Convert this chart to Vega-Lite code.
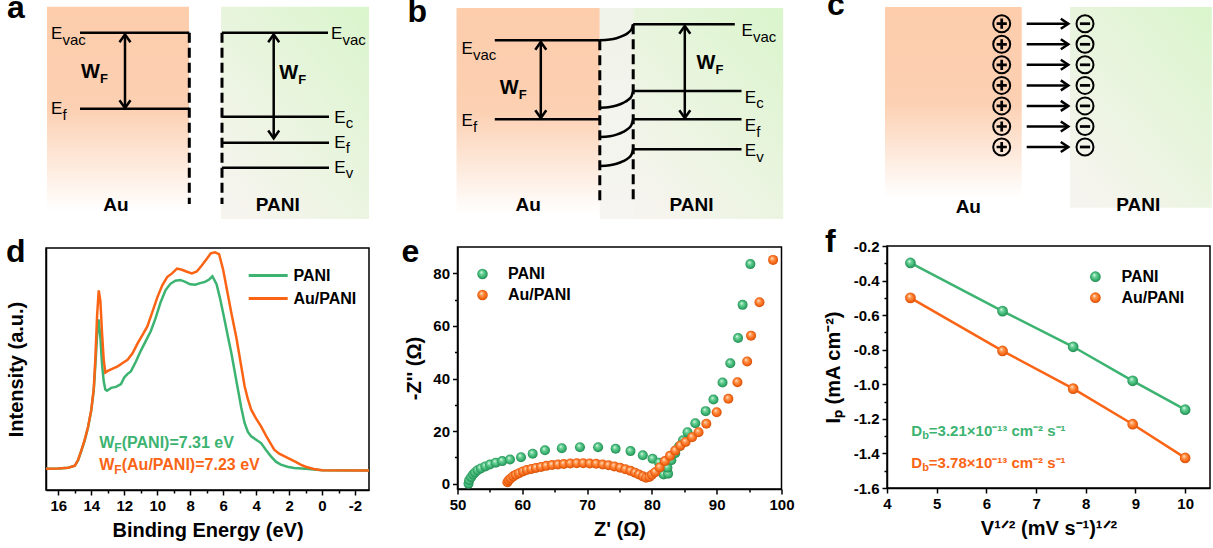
{
"$schema":"https://vega.github.io/schema/vega-lite/v6.json",
"background":"white",
"padding":{"left":5,"top":-11,"right":0,"bottom":0},
"autosize":{"type":"pad"},
"spacing":27,
"resolve":{"scale":{"color":"independent","stroke":"independent"},"legend":{"color":"independent"}},
"datasets":{
"schematic":[
{"panel":"a","kind":"au","x":1,"x2":143,"y":0.7,"y2":205},
{"panel":"a","kind":"pani","x":175,"x2":323,"y":0.7,"y2":213},
{"panel":"a","kind":"level","x":34,"x2":143.3,"y":26.7,"y2":26.7},
{"panel":"a","kind":"level","x":34,"x2":143.3,"y":102.7,"y2":102.7},
{"panel":"a","kind":"level","x":176,"x2":282,"y":26.7,"y2":26.7},
{"panel":"a","kind":"level","x":176,"x2":283,"y":110.7,"y2":110.7},
{"panel":"a","kind":"level","x":176,"x2":283,"y":136.7,"y2":136.7},
{"panel":"a","kind":"level","x":176,"x2":283,"y":161.7,"y2":161.7},
{"panel":"a","kind":"dash","x":143.3,"x2":143.3,"y":26.7,"y2":198},
{"panel":"a","kind":"dash","x":176,"x2":176,"y":26.7,"y2":198},
{"panel":"a","kind":"arrow","x":79,"x2":79,"y":28.5,"y2":102},
{"panel":"a","kind":"arrow","x":227.7,"x2":227.7,"y":28.5,"y2":132.3},
{"panel":"a","kind":"E","x":5,"y":33.3,"sub":"vac"},
{"panel":"a","kind":"E","x":5,"y":108.3,"sub":"f"},
{"panel":"a","kind":"E","x":285,"y":33.3,"sub":"vac"},
{"panel":"a","kind":"E","x":288.3,"y":116.7,"sub":"c"},
{"panel":"a","kind":"E","x":288.3,"y":141.7,"sub":"f"},
{"panel":"a","kind":"E","x":288.3,"y":166.7,"sub":"v"},
{"panel":"a","kind":"W","x":35,"y":72.3},
{"panel":"a","kind":"W","x":233.3,"y":73.3},
{"panel":"a","kind":"label","x":70,"y":205,"name":"Au"},
{"panel":"a","kind":"label","x":231.7,"y":205,"name":"PANI"},
{"panel":"b","kind":"au","x":-1,"x2":142.3,"y":2,"y2":208},
{"panel":"b","kind":"mid","x":142.3,"x2":175.7,"y":2,"y2":213},
{"panel":"b","kind":"pani","x":175.7,"x2":325.7,"y":2,"y2":213},
{"panel":"b","kind":"level","x":37.3,"x2":142.3,"y":34.3,"y2":34.3},
{"panel":"b","kind":"level","x":37.3,"x2":142.3,"y":113.3,"y2":113.3},
{"panel":"b","kind":"level","x":175.7,"x2":277.3,"y":18.3,"y2":18.3},
{"panel":"b","kind":"level","x":175.7,"x2":284,"y":85,"y2":85},
{"panel":"b","kind":"level","x":175.7,"x2":284,"y":113.3,"y2":113.3},
{"panel":"b","kind":"level","x":175.7,"x2":284,"y":143.3,"y2":143.3},
{"panel":"b","kind":"dash","x":142.3,"x2":142.3,"y":34.3,"y2":196.7},
{"panel":"b","kind":"dash","x":175.7,"x2":175.7,"y":18.3,"y2":195},
{"panel":"b","kind":"arrow","x":83.3,"x2":83.3,"y":36,"y2":112},
{"panel":"b","kind":"arrow","x":227.3,"x2":227.3,"y":20,"y2":112},
{"panel":"b","kind":"E","x":4,"y":48.3,"sub":"vac"},
{"panel":"b","kind":"E","x":4,"y":120,"sub":"f"},
{"panel":"b","kind":"E","x":284,"y":30,"sub":"vac"},
{"panel":"b","kind":"E","x":287.3,"y":96.7,"sub":"c"},
{"panel":"b","kind":"E","x":287.3,"y":125,"sub":"f"},
{"panel":"b","kind":"E","x":287.3,"y":150,"sub":"v"},
{"panel":"b","kind":"W","x":42.3,"y":88.3},
{"panel":"b","kind":"W","x":239,"y":63.3},
{"panel":"b","kind":"label","x":70.7,"y":205,"name":"Au"},
{"panel":"b","kind":"label","x":234,"y":205,"name":"PANI"},
{"panel":"b","kind":"bend","band":"vac","x":142.3,"y":34.3},
{"panel":"b","kind":"bend","band":"vac","x":152.3,"y":33.6},
{"panel":"b","kind":"bend","band":"vac","x":159,"y":32.2},
{"panel":"b","kind":"bend","band":"vac","x":165.7,"y":29.7},
{"panel":"b","kind":"bend","band":"vac","x":170.7,"y":26.7},
{"panel":"b","kind":"bend","band":"vac","x":174,"y":23.3},
{"panel":"b","kind":"bend","band":"vac","x":175.7,"y":18.3},
{"panel":"b","kind":"bend","band":"c","x":142.3,"y":101.7},
{"panel":"b","kind":"bend","band":"c","x":152.3,"y":100.9},
{"panel":"b","kind":"bend","band":"c","x":159,"y":99.5},
{"panel":"b","kind":"bend","band":"c","x":165.7,"y":96.9},
{"panel":"b","kind":"bend","band":"c","x":170.7,"y":93.8},
{"panel":"b","kind":"bend","band":"c","x":174,"y":90.2},
{"panel":"b","kind":"bend","band":"c","x":175.7,"y":85},
{"panel":"b","kind":"bend","band":"f","x":142.3,"y":131},
{"panel":"b","kind":"bend","band":"f","x":152.3,"y":130.2},
{"panel":"b","kind":"bend","band":"f","x":159,"y":128.6},
{"panel":"b","kind":"bend","band":"f","x":165.7,"y":125.9},
{"panel":"b","kind":"bend","band":"f","x":170.7,"y":122.6},
{"panel":"b","kind":"bend","band":"f","x":174,"y":118.8},
{"panel":"b","kind":"bend","band":"f","x":175.7,"y":113.3},
{"panel":"b","kind":"bend","band":"v","x":142.3,"y":160},
{"panel":"b","kind":"bend","band":"v","x":152.3,"y":159.2},
{"panel":"b","kind":"bend","band":"v","x":159,"y":157.8},
{"panel":"b","kind":"bend","band":"v","x":165.7,"y":155.2},
{"panel":"b","kind":"bend","band":"v","x":170.7,"y":152.1},
{"panel":"b","kind":"bend","band":"v","x":174,"y":148.5},
{"panel":"b","kind":"bend","band":"v","x":175.7,"y":143.3},
{"panel":"c","kind":"au","x":-2,"x2":134.7,"y":1,"y2":191.7},
{"panel":"c","kind":"pani","x":183,"x2":324.7,"y":1,"y2":201.7},
{"panel":"c","kind":"plus","x":114.7,"y":17.7},
{"panel":"c","kind":"plus","x":114.7,"y":38.3},
{"panel":"c","kind":"plus","x":114.7,"y":58.8},
{"panel":"c","kind":"plus","x":114.7,"y":79.4},
{"panel":"c","kind":"plus","x":114.7,"y":99.9},
{"panel":"c","kind":"plus","x":114.7,"y":120.5},
{"panel":"c","kind":"plus","x":114.7,"y":141},
{"panel":"c","kind":"minus","x":198,"y":17.7},
{"panel":"c","kind":"minus","x":198,"y":38.3},
{"panel":"c","kind":"minus","x":198,"y":58.8},
{"panel":"c","kind":"minus","x":198,"y":79.4},
{"panel":"c","kind":"minus","x":198,"y":99.9},
{"panel":"c","kind":"minus","x":198,"y":120.5},
{"panel":"c","kind":"minus","x":198,"y":141},
{"panel":"c","kind":"harrow","x":139.7,"x2":181.3,"y":17.7,"y2":17.7},
{"panel":"c","kind":"harrow","x":139.7,"x2":181.3,"y":38.3,"y2":38.3},
{"panel":"c","kind":"harrow","x":139.7,"x2":181.3,"y":58.8,"y2":58.8},
{"panel":"c","kind":"harrow","x":139.7,"x2":181.3,"y":79.4,"y2":79.4},
{"panel":"c","kind":"harrow","x":139.7,"x2":181.3,"y":99.9,"y2":99.9},
{"panel":"c","kind":"harrow","x":139.7,"x2":181.3,"y":120.5,"y2":120.5},
{"panel":"c","kind":"harrow","x":139.7,"x2":181.3,"y":141,"y2":141},
{"panel":"c","kind":"label","x":81.3,"y":206.7,"name":"Au"},
{"panel":"c","kind":"label","x":251.3,"y":205,"name":"PANI"}
],
"ups":[
{"spectrum":"PANI","energy":16.75,"intensity":8.8},{"spectrum":"PANI","energy":16.0,"intensity":8.9},{"spectrum":"PANI","energy":15.4,"intensity":9.2},{"spectrum":"PANI","energy":15.0,"intensity":10.0},{"spectrum":"PANI","energy":14.8,"intensity":12.3},{"spectrum":"PANI","energy":14.6,"intensity":16.3},{"spectrum":"PANI","energy":14.4,"intensity":20.5},{"spectrum":"PANI","energy":14.2,"intensity":25.8},{"spectrum":"PANI","energy":14.0,"intensity":33.0},{"spectrum":"PANI","energy":13.85,"intensity":41.5},{"spectrum":"PANI","energy":13.75,"intensity":52.0},{"spectrum":"PANI","energy":13.65,"intensity":64.0},{"spectrum":"PANI","energy":13.56,"intensity":70.5},{"spectrum":"PANI","energy":13.45,"intensity":63.0},{"spectrum":"PANI","energy":13.35,"intensity":52.0},{"spectrum":"PANI","energy":13.25,"intensity":45.0},{"spectrum":"PANI","energy":13.15,"intensity":41.5},{"spectrum":"PANI","energy":13.05,"intensity":41.0},{"spectrum":"PANI","energy":12.8,"intensity":42.2},{"spectrum":"PANI","energy":12.5,"intensity":42.6},{"spectrum":"PANI","energy":12.2,"intensity":43.8},{"spectrum":"PANI","energy":12.0,"intensity":46.5},{"spectrum":"PANI","energy":11.8,"intensity":48.0},{"spectrum":"PANI","energy":11.6,"intensity":49.0},{"spectrum":"PANI","energy":11.3,"intensity":53.0},{"spectrum":"PANI","energy":11.0,"intensity":57.5},{"spectrum":"PANI","energy":10.7,"intensity":61.5},{"spectrum":"PANI","energy":10.4,"intensity":65.5},{"spectrum":"PANI","energy":10.1,"intensity":71.0},{"spectrum":"PANI","energy":9.8,"intensity":77.5},{"spectrum":"PANI","energy":9.5,"intensity":82.5},{"spectrum":"PANI","energy":9.2,"intensity":85.2},{"spectrum":"PANI","energy":8.9,"intensity":86.5},{"spectrum":"PANI","energy":8.6,"intensity":86.8},{"spectrum":"PANI","energy":8.3,"intensity":86.0},{"spectrum":"PANI","energy":8.0,"intensity":85.0},{"spectrum":"PANI","energy":7.7,"intensity":84.8},{"spectrum":"PANI","energy":7.4,"intensity":85.5},{"spectrum":"PANI","energy":7.1,"intensity":86.0},{"spectrum":"PANI","energy":6.85,"intensity":87.0},{"spectrum":"PANI","energy":6.65,"intensity":88.3},{"spectrum":"PANI","energy":6.4,"intensity":85.0},{"spectrum":"PANI","energy":6.2,"intensity":79.5},{"spectrum":"PANI","energy":5.95,"intensity":71.5},{"spectrum":"PANI","energy":5.7,"intensity":63.0},{"spectrum":"PANI","energy":5.5,"intensity":56.5},{"spectrum":"PANI","energy":5.3,"intensity":49.0},{"spectrum":"PANI","energy":5.1,"intensity":41.4},{"spectrum":"PANI","energy":4.9,"intensity":34.0},{"spectrum":"PANI","energy":4.7,"intensity":27.7},{"spectrum":"PANI","energy":4.5,"intensity":24.0},{"spectrum":"PANI","energy":4.3,"intensity":22.2},{"spectrum":"PANI","energy":4.0,"intensity":20.8},{"spectrum":"PANI","energy":3.7,"intensity":19.4},{"spectrum":"PANI","energy":3.4,"intensity":16.5},{"spectrum":"PANI","energy":3.1,"intensity":13.9},{"spectrum":"PANI","energy":2.8,"intensity":11.7},{"spectrum":"PANI","energy":2.5,"intensity":10.5},{"spectrum":"PANI","energy":2.1,"intensity":9.6},{"spectrum":"PANI","energy":1.7,"intensity":9.1},{"spectrum":"PANI","energy":1.0,"intensity":8.8},{"spectrum":"PANI","energy":0.5,"intensity":8.5},{"spectrum":"PANI","energy":0.0,"intensity":8.2},{"spectrum":"PANI","energy":-2.85,"intensity":8.1},
{"spectrum":"Au/PANI","energy":16.75,"intensity":8.8},{"spectrum":"Au/PANI","energy":16.0,"intensity":8.9},{"spectrum":"Au/PANI","energy":15.4,"intensity":9.2},{"spectrum":"Au/PANI","energy":15.0,"intensity":10.0},{"spectrum":"Au/PANI","energy":14.8,"intensity":12.5},{"spectrum":"Au/PANI","energy":14.6,"intensity":16.5},{"spectrum":"Au/PANI","energy":14.4,"intensity":20.8},{"spectrum":"Au/PANI","energy":14.2,"intensity":26.0},{"spectrum":"Au/PANI","energy":14.0,"intensity":33.2},{"spectrum":"Au/PANI","energy":13.85,"intensity":42.0},{"spectrum":"Au/PANI","energy":13.75,"intensity":55.0},{"spectrum":"Au/PANI","energy":13.65,"intensity":72.0},{"spectrum":"Au/PANI","energy":13.55,"intensity":82.5},{"spectrum":"Au/PANI","energy":13.45,"intensity":78.0},{"spectrum":"Au/PANI","energy":13.35,"intensity":65.0},{"spectrum":"Au/PANI","energy":13.25,"intensity":54.0},{"spectrum":"Au/PANI","energy":13.15,"intensity":48.5},{"spectrum":"Au/PANI","energy":13.0,"intensity":49.2},{"spectrum":"Au/PANI","energy":12.7,"intensity":50.2},{"spectrum":"Au/PANI","energy":12.4,"intensity":51.1},{"spectrum":"Au/PANI","energy":12.1,"intensity":52.5},{"spectrum":"Au/PANI","energy":11.8,"intensity":53.8},{"spectrum":"Au/PANI","energy":11.5,"intensity":56.5},{"spectrum":"Au/PANI","energy":11.2,"intensity":60.5},{"spectrum":"Au/PANI","energy":10.9,"intensity":64.0},{"spectrum":"Au/PANI","energy":10.6,"intensity":67.6},{"spectrum":"Au/PANI","energy":10.3,"intensity":73.5},{"spectrum":"Au/PANI","energy":10.0,"intensity":79.5},{"spectrum":"Au/PANI","energy":9.7,"intensity":84.5},{"spectrum":"Au/PANI","energy":9.4,"intensity":88.0},{"spectrum":"Au/PANI","energy":9.1,"intensity":89.5},{"spectrum":"Au/PANI","energy":8.8,"intensity":91.5},{"spectrum":"Au/PANI","energy":8.5,"intensity":91.0},{"spectrum":"Au/PANI","energy":8.2,"intensity":90.2},{"spectrum":"Au/PANI","energy":7.9,"intensity":89.5},{"spectrum":"Au/PANI","energy":7.6,"intensity":90.3},{"spectrum":"Au/PANI","energy":7.3,"intensity":92.8},{"spectrum":"Au/PANI","energy":7.0,"intensity":95.5},{"spectrum":"Au/PANI","energy":6.75,"intensity":97.8},{"spectrum":"Au/PANI","energy":6.5,"intensity":98.2},{"spectrum":"Au/PANI","energy":6.25,"intensity":97.5},{"spectrum":"Au/PANI","energy":6.0,"intensity":91.0},{"spectrum":"Au/PANI","energy":5.75,"intensity":82.0},{"spectrum":"Au/PANI","energy":5.5,"intensity":73.0},{"spectrum":"Au/PANI","energy":5.2,"intensity":63.0},{"spectrum":"Au/PANI","energy":4.9,"intensity":51.0},{"spectrum":"Au/PANI","energy":4.7,"intensity":43.0},{"spectrum":"Au/PANI","energy":4.5,"intensity":37.5},{"spectrum":"Au/PANI","energy":4.3,"intensity":33.2},{"spectrum":"Au/PANI","energy":4.0,"intensity":29.5},{"spectrum":"Au/PANI","energy":3.7,"intensity":26.3},{"spectrum":"Au/PANI","energy":3.4,"intensity":22.5},{"spectrum":"Au/PANI","energy":3.1,"intensity":19.0},{"spectrum":"Au/PANI","energy":2.9,"intensity":16.7},{"spectrum":"Au/PANI","energy":2.6,"intensity":15.0},{"spectrum":"Au/PANI","energy":2.3,"intensity":14.0},{"spectrum":"Au/PANI","energy":2.0,"intensity":13.0},{"spectrum":"Au/PANI","energy":1.6,"intensity":11.6},{"spectrum":"Au/PANI","energy":1.3,"intensity":10.5},{"spectrum":"Au/PANI","energy":1.0,"intensity":9.6},{"spectrum":"Au/PANI","energy":0.5,"intensity":8.7},{"spectrum":"Au/PANI","energy":0.0,"intensity":8.2},{"spectrum":"Au/PANI","energy":-2.85,"intensity":8.1}
],
"ups_notes":[
{"spectrum":"PANI","energy":13.52,"intensity":19.4,"main":"W","sub":"F","rest":"(PANI)=7.31 eV"},
{"spectrum":"Au/PANI","energy":13.52,"intensity":10.3,"main":"W","sub":"F","rest":"(Au/PANI)=7.23 eV"}
],
"eis":[
{"sample":"PANI","zr":51.7,"zi":0.0},{"sample":"PANI","zr":51.8,"zi":1.3},{"sample":"PANI","zr":52.1,"zi":2.5},{"sample":"PANI","zr":52.4,"zi":3.5},{"sample":"PANI","zr":52.7,"zi":4.3},{"sample":"PANI","zr":53.1,"zi":5.1},{"sample":"PANI","zr":53.6,"zi":5.8},{"sample":"PANI","zr":54.3,"zi":6.6},{"sample":"PANI","zr":55.0,"zi":7.3},{"sample":"PANI","zr":55.9,"zi":8.0},{"sample":"PANI","zr":56.9,"zi":8.6},{"sample":"PANI","zr":58.1,"zi":9.2},{"sample":"PANI","zr":59.8,"zi":10.1},{"sample":"PANI","zr":61.6,"zi":11.4},{"sample":"PANI","zr":63.5,"zi":12.7},{"sample":"PANI","zr":66.1,"zi":13.5},{"sample":"PANI","zr":68.9,"zi":13.9},{"sample":"PANI","zr":71.7,"zi":13.9},{"sample":"PANI","zr":74.4,"zi":13.3},{"sample":"PANI","zr":76.7,"zi":12.4},{"sample":"PANI","zr":78.6,"zi":10.8},{"sample":"PANI","zr":80.1,"zi":9.5},{"sample":"PANI","zr":81.1,"zi":8.0},{"sample":"PANI","zr":81.6,"zi":5.3},{"sample":"PANI","zr":81.8,"zi":3.5},{"sample":"PANI","zr":82.5,"zi":3.8},{"sample":"PANI","zr":82.4,"zi":6.1},{"sample":"PANI","zr":83.0,"zi":8.9},{"sample":"PANI","zr":83.6,"zi":11.6},{"sample":"PANI","zr":84.2,"zi":14.2},{"sample":"PANI","zr":84.8,"zi":16.5},{"sample":"PANI","zr":85.5,"zi":19.6},{"sample":"PANI","zr":86.7,"zi":23.0},{"sample":"PANI","zr":88.3,"zi":27.6},{"sample":"PANI","zr":89.5,"zi":32.0},{"sample":"PANI","zr":90.9,"zi":38.5},{"sample":"PANI","zr":92.1,"zi":45.8},{"sample":"PANI","zr":93.3,"zi":55.4},{"sample":"PANI","zr":94.0,"zi":68.0},{"sample":"PANI","zr":95.2,"zi":83.5},
{"sample":"Au/PANI","zr":57.7,"zi":0.6},{"sample":"Au/PANI","zr":57.9,"zi":1.3},{"sample":"Au/PANI","zr":58.2,"zi":2.0},{"sample":"Au/PANI","zr":58.6,"zi":2.8},{"sample":"Au/PANI","zr":59.0,"zi":3.4},{"sample":"Au/PANI","zr":59.5,"zi":4.0},{"sample":"Au/PANI","zr":60.1,"zi":4.7},{"sample":"Au/PANI","zr":60.7,"zi":5.2},{"sample":"Au/PANI","zr":61.4,"zi":5.6},{"sample":"Au/PANI","zr":62.1,"zi":6.0},{"sample":"Au/PANI","zr":62.9,"zi":6.4},{"sample":"Au/PANI","zr":63.7,"zi":6.8},{"sample":"Au/PANI","zr":64.6,"zi":7.1},{"sample":"Au/PANI","zr":65.5,"zi":7.3},{"sample":"Au/PANI","zr":66.4,"zi":7.5},{"sample":"Au/PANI","zr":67.4,"zi":7.7},{"sample":"Au/PANI","zr":68.4,"zi":7.8},{"sample":"Au/PANI","zr":69.4,"zi":7.8},{"sample":"Au/PANI","zr":70.4,"zi":7.7},{"sample":"Au/PANI","zr":71.4,"zi":7.6},{"sample":"Au/PANI","zr":72.4,"zi":7.3},{"sample":"Au/PANI","zr":73.3,"zi":7.0},{"sample":"Au/PANI","zr":74.2,"zi":6.6},{"sample":"Au/PANI","zr":75.1,"zi":6.1},{"sample":"Au/PANI","zr":75.9,"zi":5.5},{"sample":"Au/PANI","zr":76.7,"zi":4.9},{"sample":"Au/PANI","zr":77.4,"zi":4.2},{"sample":"Au/PANI","zr":78.0,"zi":3.5},{"sample":"Au/PANI","zr":78.6,"zi":2.8},{"sample":"Au/PANI","zr":79.1,"zi":2.3},{"sample":"Au/PANI","zr":79.6,"zi":2.6},{"sample":"Au/PANI","zr":80.0,"zi":3.4},{"sample":"Au/PANI","zr":80.5,"zi":4.4},{"sample":"Au/PANI","zr":81.2,"zi":6.2},{"sample":"Au/PANI","zr":82.0,"zi":8.6},{"sample":"Au/PANI","zr":82.8,"zi":10.6},{"sample":"Au/PANI","zr":83.6,"zi":12.6},{"sample":"Au/PANI","zr":84.4,"zi":14.5},{"sample":"Au/PANI","zr":85.2,"zi":15.9},{"sample":"Au/PANI","zr":86.2,"zi":17.7},{"sample":"Au/PANI","zr":87.2,"zi":19.6},{"sample":"Au/PANI","zr":88.4,"zi":22.8},{"sample":"Au/PANI","zr":90.0,"zi":27.2},{"sample":"Au/PANI","zr":91.8,"zi":32.3},{"sample":"Au/PANI","zr":93.2,"zi":38.6},{"sample":"Au/PANI","zr":94.7,"zi":46.5},{"sample":"Au/PANI","zr":95.3,"zi":56.3},{"sample":"Au/PANI","zr":96.6,"zi":69.0},{"sample":"Au/PANI","zr":98.7,"zi":85.1}
],
"cv":[
{"film":"PANI","sqrt_rate":4.472,"peak_current":-0.298},{"film":"PANI","sqrt_rate":6.325,"peak_current":-0.577},{"film":"PANI","sqrt_rate":7.746,"peak_current":-0.783},{"film":"PANI","sqrt_rate":8.944,"peak_current":-0.980},{"film":"PANI","sqrt_rate":10.0,"peak_current":-1.147},
{"film":"Au/PANI","sqrt_rate":4.472,"peak_current":-0.500},{"film":"Au/PANI","sqrt_rate":6.325,"peak_current":-0.807},{"film":"Au/PANI","sqrt_rate":7.746,"peak_current":-1.025},{"film":"Au/PANI","sqrt_rate":8.944,"peak_current":-1.231},{"film":"Au/PANI","sqrt_rate":10.0,"peak_current":-1.426}
],
"cv_notes":[
{"film":"PANI","sqrt_rate":4.49,"peak_current":-1.273,"main":"D","sub":"b","rest":"=3.21×10⁻¹³ cm⁻² s⁻¹"},
{"film":"Au/PANI","sqrt_rate":4.49,"peak_current":-1.454,"main":"D","sub":"b","rest":"=3.78×10⁻¹³ cm⁻² s⁻¹"}
]
},
"hconcat":[
{"spacing":25.5,"resolve":{"scale":{"color":"independent","stroke":"independent"},"legend":{"color":"independent"}},
 "hconcat":[
 {"spacing":14,"resolve":{"scale":{"color":"independent","stroke":"independent"},"legend":{"color":"independent"}},
  "vconcat":[
  {"width":323,"height":215,"title":{"text":"a","dx":-39,"dy":23},
   "data":{"name":"schematic"},
   "encoding":{"x":{"field":"x","type":"quantitative","scale":{"domain":[0,323],"nice":false,"zero":false},"axis":null},"y":{"field":"y","type":"quantitative","scale":{"domain":[0,215],"reverse":true,"nice":false,"zero":false},"axis":null}},
   "layer":[
    {"transform":[{"filter":"datum.panel==='a' && datum.kind==='au'"}],"mark":{"type":"rect","fill":{"gradient":"linear","x1":0,"y1":0,"x2":0,"y2":1,"stops":[{"offset":0,"color":"#FDCDAC"},{"offset":0.5,"color":"#FCD0B2"},{"offset":1,"color":"#FFFFFF"}]}},"encoding":{"x2":{"field":"x2"},"y2":{"field":"y2"}}},
    {"transform":[{"filter":"datum.panel==='a' && datum.kind==='pani'"}],"mark":{"type":"rect","fill":{"gradient":"linear","x1":1,"y1":0,"x2":0.2,"y2":1,"stops":[{"offset":0,"color":"#DAF5CC"},{"offset":1,"color":"#F6F4EE"}]}},"encoding":{"x2":{"field":"x2"},"y2":{"field":"y2"}}},
    {"transform":[{"filter":"datum.panel==='a' && datum.kind==='level'"}],"mark":{"type":"rule","strokeWidth":2.5,"color":"black"},"encoding":{"x2":{"field":"x2"},"y2":{"field":"y2"}}},
    {"transform":[{"filter":"datum.panel==='a' && datum.kind==='dash'"}],"mark":{"type":"rule","strokeWidth":3,"strokeDash":[10,5],"color":"black"},"encoding":{"x2":{"field":"x2"},"y2":{"field":"y2"}}},
    {"transform":[{"filter":"datum.panel==='a' && datum.kind==='arrow'"}],"mark":{"type":"rule","strokeWidth":2.5,"color":"black"},"encoding":{"x2":{"field":"x2"},"y2":{"field":"y2"}}},
    {"transform":[{"filter":"datum.panel==='a' && datum.kind==='arrow'"}],"mark":{"type":"point","shape":"M-1,1.4L0,0L1,1.4","filled":false,"color":"black","strokeWidth":2.5,"size":121,"opacity":1,"strokeJoin":"miter"}},
    {"transform":[{"filter":"datum.panel==='a' && datum.kind==='arrow'"}],"mark":{"type":"point","shape":"M-1,-1.4L0,0L1,-1.4","filled":false,"color":"black","strokeWidth":2.5,"size":121,"opacity":1,"strokeJoin":"miter"},"encoding":{"y":{"field":"y2","type":"quantitative"}}},
    {"transform":[{"filter":"datum.panel==='a' && datum.kind==='E'"}],"mark":{"type":"text","align":"left","baseline":"alphabetic","fontSize":17,"color":"black"},"encoding":{"text":{"value":"E"}}},
    {"transform":[{"filter":"datum.panel==='a' && datum.kind==='E'"}],"mark":{"type":"text","align":"left","baseline":"alphabetic","fontSize":15,"dx":11.5,"dy":5.5,"color":"black"},"encoding":{"text":{"field":"sub"}}},
    {"transform":[{"filter":"datum.panel==='a' && datum.kind==='W'"}],"mark":{"type":"text","align":"left","baseline":"alphabetic","fontSize":20,"fontWeight":"bold","color":"black"},"encoding":{"text":{"value":"W"}}},
    {"transform":[{"filter":"datum.panel==='a' && datum.kind==='W'"}],"mark":{"type":"text","align":"left","baseline":"alphabetic","fontSize":13,"fontWeight":"bold","dx":19,"dy":5,"color":"black"},"encoding":{"text":{"value":"F"}}},
    {"transform":[{"filter":"datum.panel==='a' && datum.kind==='label'"}],"mark":{"type":"text","align":"center","baseline":"alphabetic","fontSize":19,"fontWeight":"bold","color":"black"},"encoding":{"text":{"field":"name"}}}
   ]},
  {"width":323,"height":242,"title":{"text":"d","dx":-40,"dy":25.7},
   "view":{"stroke":"black","strokeWidth":1.5},
   "encoding":{
    "x":{"field":"energy","type":"quantitative","scale":{"domain":[-2.85,16.75],"reverse":true,"nice":false,"zero":false},"axis":{"values":[-2,-1,0,1,2,3,4,5,6,7,8,9,10,11,12,13,14,15,16],"labelExpr":"datum.value % 2 === 0 ? replace(datum.label,'−','-') : ''","tickSize":{"condition":{"test":"datum.value % 2 === 0","value":5},"value":3},"title":"Binding Energy (eV)","titlePadding":7}},
    "y":{"field":"intensity","type":"quantitative","scale":{"domain":[0,100],"nice":false,"zero":false},"axis":{"ticks":false,"labels":false,"title":"Intensity (a.u.)","titlePadding":20}}
   },
   "layer":[
    {"data":{"name":"ups"},"mark":{"type":"line","strokeWidth":2.5},
     "encoding":{"color":{"field":"spectrum","type":"nominal","scale":{"domain":["PANI","Au/PANI"],"range":["#3CB371","#FA6414"]},"legend":{"orient":"none","legendX":212.7,"legendY":18,"title":null,"symbolType":"M-2.5,0H2.5","symbolSize":243,"symbolStrokeWidth":3,"labelOffset":15.7,"rowPadding":5}}}},
    {"data":{"name":"ups_notes"},"mark":{"type":"text","align":"left","baseline":"middle","fontSize":16,"fontWeight":"bold"},"encoding":{"text":{"field":"main"},"color":{"condition":{"test":"datum.spectrum==='PANI'","value":"#3CB371"},"value":"#FA6414"}}},
    {"data":{"name":"ups_notes"},"mark":{"type":"text","align":"left","baseline":"middle","fontSize":12,"fontWeight":"bold","dx":15.1,"dy":5},"encoding":{"text":{"field":"sub"},"color":{"condition":{"test":"datum.spectrum==='PANI'","value":"#3CB371"},"value":"#FA6414"}}},
    {"data":{"name":"ups_notes"},"mark":{"type":"text","align":"left","baseline":"middle","fontSize":16,"fontWeight":"bold","dx":22.5},"encoding":{"text":{"field":"rest"},"color":{"condition":{"test":"datum.spectrum==='PANI'","value":"#3CB371"},"value":"#FA6414"}}}
   ]}
  ]},
 {"spacing":14,"resolve":{"scale":{"color":"independent","stroke":"independent"},"legend":{"color":"independent"}},
  "vconcat":[
  {"width":324,"height":215,"title":{"text":"b","dx":-50,"dy":27},
   "data":{"name":"schematic"},
   "encoding":{"x":{"field":"x","type":"quantitative","scale":{"domain":[0,324],"nice":false,"zero":false},"axis":null},"y":{"field":"y","type":"quantitative","scale":{"domain":[0,215],"reverse":true,"nice":false,"zero":false},"axis":null}},
   "layer":[
    {"transform":[{"filter":"datum.panel==='b' && datum.kind==='au'"}],"mark":{"type":"rect","fill":{"gradient":"linear","x1":0,"y1":0,"x2":0,"y2":1,"stops":[{"offset":0,"color":"#FDCDAC"},{"offset":0.5,"color":"#FCD0B2"},{"offset":1,"color":"#FFFFFF"}]}},"encoding":{"x2":{"field":"x2"},"y2":{"field":"y2"}}},
    {"transform":[{"filter":"datum.panel==='b' && datum.kind==='mid'"}],"mark":{"type":"rect","fill":{"gradient":"linear","x1":0,"y1":0,"x2":0,"y2":1,"stops":[{"offset":0,"color":"#F0F3EA"},{"offset":1,"color":"#F6F5F1"}]}},"encoding":{"x2":{"field":"x2"},"y2":{"field":"y2"}}},
    {"transform":[{"filter":"datum.panel==='b' && datum.kind==='pani'"}],"mark":{"type":"rect","fill":{"gradient":"linear","x1":1,"y1":0,"x2":0.2,"y2":1,"stops":[{"offset":0,"color":"#DAF5CC"},{"offset":1,"color":"#F6F4EE"}]}},"encoding":{"x2":{"field":"x2"},"y2":{"field":"y2"}}},
    {"transform":[{"filter":"datum.panel==='b' && datum.kind==='level'"}],"mark":{"type":"rule","strokeWidth":2.5,"color":"black"},"encoding":{"x2":{"field":"x2"},"y2":{"field":"y2"}}},
    {"transform":[{"filter":"datum.panel==='b' && datum.kind==='bend'"}],"mark":{"type":"line","strokeWidth":2.5,"color":"black","interpolate":"monotone"},"encoding":{"detail":{"field":"band"}}},
    {"transform":[{"filter":"datum.panel==='b' && datum.kind==='dash'"}],"mark":{"type":"rule","strokeWidth":3,"strokeDash":[10,5],"color":"black"},"encoding":{"x2":{"field":"x2"},"y2":{"field":"y2"}}},
    {"transform":[{"filter":"datum.panel==='b' && datum.kind==='arrow'"}],"mark":{"type":"rule","strokeWidth":2.5,"color":"black"},"encoding":{"x2":{"field":"x2"},"y2":{"field":"y2"}}},
    {"transform":[{"filter":"datum.panel==='b' && datum.kind==='arrow'"}],"mark":{"type":"point","shape":"M-1,1.4L0,0L1,1.4","filled":false,"color":"black","strokeWidth":2.5,"size":121,"opacity":1,"strokeJoin":"miter"}},
    {"transform":[{"filter":"datum.panel==='b' && datum.kind==='arrow'"}],"mark":{"type":"point","shape":"M-1,-1.4L0,0L1,-1.4","filled":false,"color":"black","strokeWidth":2.5,"size":121,"opacity":1,"strokeJoin":"miter"},"encoding":{"y":{"field":"y2","type":"quantitative"}}},
    {"transform":[{"filter":"datum.panel==='b' && datum.kind==='E'"}],"mark":{"type":"text","align":"left","baseline":"alphabetic","fontSize":17,"color":"black"},"encoding":{"text":{"value":"E"}}},
    {"transform":[{"filter":"datum.panel==='b' && datum.kind==='E'"}],"mark":{"type":"text","align":"left","baseline":"alphabetic","fontSize":15,"dx":11.5,"dy":5.5,"color":"black"},"encoding":{"text":{"field":"sub"}}},
    {"transform":[{"filter":"datum.panel==='b' && datum.kind==='W'"}],"mark":{"type":"text","align":"left","baseline":"alphabetic","fontSize":20,"fontWeight":"bold","color":"black"},"encoding":{"text":{"value":"W"}}},
    {"transform":[{"filter":"datum.panel==='b' && datum.kind==='W'"}],"mark":{"type":"text","align":"left","baseline":"alphabetic","fontSize":13,"fontWeight":"bold","dx":19,"dy":5,"color":"black"},"encoding":{"text":{"value":"F"}}},
    {"transform":[{"filter":"datum.panel==='b' && datum.kind==='label'"}],"mark":{"type":"text","align":"center","baseline":"alphabetic","fontSize":19,"fontWeight":"bold","color":"black"},"encoding":{"text":{"field":"name"}}}
   ]},
  {"width":324,"height":242,"title":{"text":"e","dx":-56,"dy":26},
   "view":{"stroke":"black","strokeWidth":1.5},
   "data":{"name":"eis"},
   "mark":{"type":"point","filled":true,"size":100,"opacity":1},
   "encoding":{
    "x":{"field":"zr","type":"quantitative","scale":{"domain":[50,100],"nice":false,"zero":false},"axis":{"values":[50,55,60,65,70,75,80,85,90,95,100],"labelExpr":"datum.value % 10 === 0 ? datum.label : ''","tickSize":{"condition":{"test":"datum.value % 10 === 0","value":5},"value":3},"title":"Z' (Ω)","titlePadding":7}},
    "y":{"field":"zi","type":"quantitative","scale":{"domain":[-2,90],"nice":false,"zero":false},"axis":{"values":[0,10,20,30,40,50,60,70,80],"labelExpr":"datum.value % 20 === 0 ? datum.label : ''","tickSize":{"condition":{"test":"datum.value % 20 === 0","value":5},"value":3},"title":"-Z'' (Ω)","titlePadding":8}},
    "color":{"field":"sample","type":"nominal","scale":{"domain":["PANI","Au/PANI"],"range":[{"expr":"{gradient:'radial',x1:0.38,y1:0.32,r1:0,x2:0.5,y2:0.5,r2:0.55,stops:[{offset:0,color:'#F2FFF6'},{offset:0.3,color:'#6FD49B'},{offset:0.7,color:'#36AE6C'},{offset:1,color:'#1E7D4A'}]}"},{"expr":"{gradient:'radial',x1:0.38,y1:0.32,r1:0,x2:0.5,y2:0.5,r2:0.55,stops:[{offset:0,color:'#FFF3E6'},{offset:0.3,color:'#FF9B55'},{offset:0.7,color:'#F96614'},{offset:1,color:'#C24A08'}]}"}]},"legend":{"orient":"none","legendX":17,"legendY":19,"title":null,"symbolType":"circle","symbolSize":110,"labelOffset":17.5,"rowPadding":5}}
   }}
  ]}
 ]},
{"spacing":4,"resolve":{"scale":{"color":"independent","stroke":"independent"},"legend":{"color":"independent"}},
 "vconcat":[
 {"width":323,"height":215,"title":{"text":"c","dx":-60,"dy":20},
  "data":{"name":"schematic"},
  "encoding":{"x":{"field":"x","type":"quantitative","scale":{"domain":[0,323],"nice":false,"zero":false},"axis":null},"y":{"field":"y","type":"quantitative","scale":{"domain":[0,215],"reverse":true,"nice":false,"zero":false},"axis":null}},
  "layer":[
   {"transform":[{"filter":"datum.panel==='c' && datum.kind==='au'"}],"mark":{"type":"rect","fill":{"gradient":"linear","x1":0,"y1":0,"x2":0,"y2":1,"stops":[{"offset":0,"color":"#FDCDAC"},{"offset":0.5,"color":"#FCD0B2"},{"offset":1,"color":"#FFFFFF"}]}},"encoding":{"x2":{"field":"x2"},"y2":{"field":"y2"}}},
   {"transform":[{"filter":"datum.panel==='c' && datum.kind==='pani'"}],"mark":{"type":"rect","fill":{"gradient":"linear","x1":1,"y1":0,"x2":0.2,"y2":1,"stops":[{"offset":0,"color":"#DAF5CC"},{"offset":1,"color":"#F6F4EE"}]}},"encoding":{"x2":{"field":"x2"},"y2":{"field":"y2"}}},
   {"transform":[{"filter":"datum.panel==='c' && datum.kind==='harrow'"}],"mark":{"type":"rule","strokeWidth":2.5,"color":"black"},"encoding":{"x2":{"field":"x2"},"y2":{"field":"y2"}}},
   {"transform":[{"filter":"datum.panel==='c' && datum.kind==='harrow'"}],"mark":{"type":"point","shape":"M-1.5,-1L0,0L-1.5,1","filled":false,"color":"black","strokeWidth":2.5,"size":100,"opacity":1,"strokeJoin":"miter"},"encoding":{"x":{"field":"x2","type":"quantitative"}}},
   {"transform":[{"filter":"datum.panel==='c' && (datum.kind==='plus' || datum.kind==='minus')"}],"mark":{"type":"point","shape":"circle","filled":false,"color":"black","strokeWidth":2,"size":289,"opacity":1}},
   {"transform":[{"filter":"datum.panel==='c' && datum.kind==='plus'"}],"mark":{"type":"point","shape":"M-0.6,-0.16H0.6V0.16H-0.6Z M-0.16,-0.6H0.16V0.6H-0.16Z","filled":true,"color":"black","size":289,"opacity":1}},
   {"transform":[{"filter":"datum.panel==='c' && datum.kind==='minus'"}],"mark":{"type":"point","shape":"M-0.6,-0.16H0.6V0.16H-0.6Z","filled":true,"color":"black","size":289,"opacity":1}},
   {"transform":[{"filter":"datum.panel==='c' && datum.kind==='label'"}],"mark":{"type":"text","align":"center","baseline":"alphabetic","fontSize":19,"fontWeight":"bold","color":"black"},"encoding":{"text":{"field":"name"}}}
  ]},
 {"width":323,"height":242,"title":{"text":"f","dx":-62,"dy":24},
  "view":{"stroke":"black","strokeWidth":1.5},
  "encoding":{
   "x":{"field":"sqrt_rate","type":"quantitative","scale":{"domain":[4,10.5],"nice":false,"zero":false},"axis":{"values":[4,4.5,5,5.5,6,6.5,7,7.5,8,8.5,9,9.5,10],"format":"d","labelExpr":"datum.value % 1 === 0 ? datum.label : ''","tickSize":{"condition":{"test":"datum.value % 1 === 0","value":5},"value":3},"title":"V¹ᐟ² (mV s⁻¹)¹ᐟ²","titlePadding":7}},
   "y":{"field":"peak_current","type":"quantitative","scale":{"domain":[-1.6,-0.2],"nice":false,"zero":false},"axis":{"values":[-1.6,-1.5,-1.4,-1.3,-1.2,-1.1,-1.0,-0.9,-0.8,-0.7,-0.6,-0.5,-0.4,-0.3,-0.2],"format":".1f","labelExpr":"abs(round(datum.value*10)) % 2 === 0 ? replace(datum.label,'−','-') : ''","tickSize":{"condition":{"test":"abs(round(datum.value*10)) % 2 === 0","value":5},"value":3},"title":"Iₚ (mA cm⁻²)","titlePadding":10}}
  },
  "layer":[
   {"data":{"name":"cv"},"mark":{"type":"line","strokeWidth":2.5},"encoding":{"detail":{"field":"film"},"stroke":{"condition":{"test":"datum.film==='PANI'","value":"#3CB371"},"value":"#FA6414"}}},
   {"data":{"name":"cv"},"mark":{"type":"point","filled":true,"size":115,"opacity":1},"encoding":{"color":{"field":"film","type":"nominal","scale":{"domain":["PANI","Au/PANI"],"range":[{"expr":"{gradient:'radial',x1:0.38,y1:0.32,r1:0,x2:0.5,y2:0.5,r2:0.55,stops:[{offset:0,color:'#F2FFF6'},{offset:0.3,color:'#6FD49B'},{offset:0.7,color:'#36AE6C'},{offset:1,color:'#1E7D4A'}]}"},{"expr":"{gradient:'radial',x1:0.38,y1:0.32,r1:0,x2:0.5,y2:0.5,r2:0.55,stops:[{offset:0,color:'#FFF3E6'},{offset:0.3,color:'#FF9B55'},{offset:0.7,color:'#F96614'},{offset:1,color:'#C24A08'}]}"}]},"legend":{"orient":"none","legendX":200.4,"legendY":22.7,"title":null,"symbolType":"circle","symbolSize":115,"labelOffset":18,"rowPadding":5}}}},
   {"data":{"name":"cv_notes"},"mark":{"type":"text","align":"left","baseline":"middle","fontSize":15,"fontWeight":"bold"},"encoding":{"text":{"field":"main"},"color":{"condition":{"test":"datum.film==='PANI'","value":"#3CB371"},"value":"#FA6414"}}},
   {"data":{"name":"cv_notes"},"mark":{"type":"text","align":"left","baseline":"middle","fontSize":11,"fontWeight":"bold","dx":11,"dy":5},"encoding":{"text":{"field":"sub"},"color":{"condition":{"test":"datum.film==='PANI'","value":"#3CB371"},"value":"#FA6414"}}},
   {"data":{"name":"cv_notes"},"mark":{"type":"text","align":"left","baseline":"middle","fontSize":15,"fontWeight":"bold","dx":17.5},"encoding":{"text":{"field":"rest"},"color":{"condition":{"test":"datum.film==='PANI'","value":"#3CB371"},"value":"#FA6414"}}}
  ]}
 ]}
],
"config":{
 "font":"Liberation Sans",
 "view":{"stroke":null},
 "axis":{"grid":false,"domainColor":"black","domainWidth":1.5,"tickColor":"black","tickWidth":1.5,"tickSize":5,"labelFont":"Liberation Sans","labelFontSize":15,"labelFontWeight":"bold","labelColor":"black","labelPadding":3,"labelFlush":false,"labelOverlap":false,"labelBound":false,"titleFont":"Liberation Sans","titleFontSize":20,"titleFontWeight":"bold","titleColor":"black"},
 "legend":{"labelFont":"Liberation Sans","labelFontSize":16,"labelFontWeight":"bold","labelColor":"black","padding":0},
 "title":{"font":"Liberation Sans","fontSize":32,"fontWeight":"bold","color":"black","anchor":"start","frame":"group","offset":0,"baseline":"alphabetic"},
 "text":{"font":"Liberation Sans"}
}
}
